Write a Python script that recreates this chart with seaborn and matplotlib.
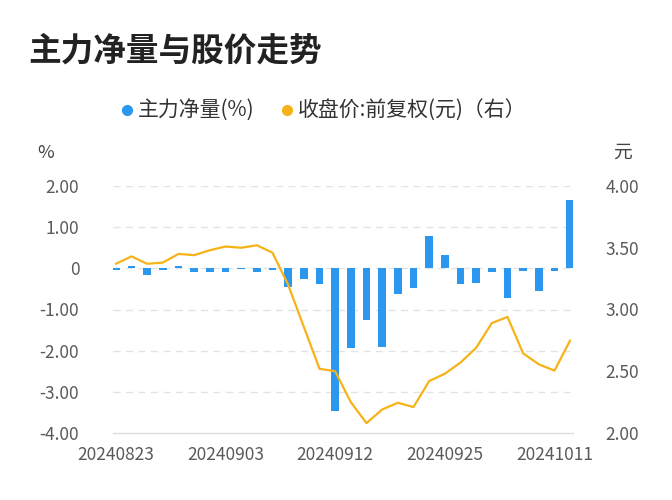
import matplotlib
matplotlib.use("Agg")
import matplotlib.pyplot as plt
import seaborn as sns
import pandas as pd
from matplotlib.lines import Line2D

dates = ["20240823", "20240826", "20240827", "20240828", "20240829", "20240830",
         "20240902", "20240903", "20240904", "20240905", "20240906",
         "20240909", "20240910", "20240911", "20240912", "20240913",
         "20240918", "20240919", "20240920", "20240923", "20240924",
         "20240925", "20240926", "20240927", "20240930", "20241008",
         "20241009", "20241010", "20241011", "20241014"]
net_flow = [-0.05, 0.05, -0.15, -0.05, 0.05, -0.08, -0.08, -0.08, -0.02, -0.10,
            -0.03, -0.45, -0.25, -0.37, -3.46, -1.94, -1.25, -1.90, -0.63, -0.48,
            0.78, 0.32, -0.37, -0.35, -0.09, -0.71, -0.07, -0.55, -0.06, 1.66]
close = [3.37, 3.43, 3.37, 3.38, 3.45, 3.44, 3.48, 3.51, 3.50, 3.52,
         3.46, 3.20, 2.86, 2.52, 2.50, 2.25, 2.08, 2.19, 2.245, 2.21,
         2.42, 2.48, 2.57, 2.69, 2.89, 2.94, 2.645, 2.556, 2.505, 2.75]
tick_labels = ["20240823", "20240903", "20240912", "20240925", "20241011"]
left_ticks = [2, 1, 0, -1, -2, -3, -4]
left_tick_labels = ["2.00", "1.00", "0", "-1.00", "-2.00", "-3.00", "-4.00"]
right_ticks = [4.0, 3.5, 3.0, 2.5, 2.0]
right_tick_labels = ["4.00", "3.50", "3.00", "2.50", "2.00"]

df = pd.DataFrame({"date": dates, "net": net_flow, "close": close})

sns.set_theme(style="white")
plt.rcParams["font.family"] = ["Noto Sans CJK SC", "DejaVu Sans"]

BLUE = "#2c97ee"
ORANGE = "#f6b318"
TICK = "#5a5a5a"
GRID = "#e3e3e3"

fig = plt.figure(figsize=(6.72, 5.0), dpi=100)
ax = fig.add_axes([0.1677, 0.134, 0.6854, 0.494])
sns.barplot(data=df, x="date", y="net", color=BLUE, width=0.5, ax=ax,
            saturation=1, edgecolor="none")
ax2 = ax.twinx()
sns.lineplot(data=df, x="date", y="close", color=ORANGE, linewidth=1.6, ax=ax2,
             sort=False)

ax.set_xlim(-0.2, len(dates) - 0.8)
ax.set_ylim(-4, 2)
ax2.set_ylim(2, 4)

ax.set_yticks(left_ticks)
ax.set_yticklabels(left_tick_labels)
ax2.set_yticks(right_ticks)
ax2.set_yticklabels(right_tick_labels)
tick_pos = [dates.index(d) for d in tick_labels]
ax.set_xticks(tick_pos)
ax.set_xticklabels(tick_labels)

for a in (ax, ax2):
    a.set_xlabel("")
    a.set_ylabel("")
    for s in a.spines.values():
        s.set_visible(False)
ax.spines["bottom"].set_visible(True)
ax.spines["bottom"].set_color("#dcdcdc")
ax.spines["bottom"].set_linewidth(1.0)

ax.tick_params(axis="y", length=0, pad=24, labelsize=12.5, labelcolor=TICK)
ax.tick_params(axis="x", length=0, pad=9, labelsize=12.5, labelcolor=TICK)
ax2.tick_params(axis="y", length=0, pad=23, labelsize=12.5, labelcolor=TICK)

for y in left_ticks[:-1]:
    ax.axhline(y, color=GRID, linestyle=(0, (5, 4)), linewidth=1.0, zorder=0)
ax.set_axisbelow(True)

fig.text(0.042, 0.897, "主力净量与股价走势", fontsize=23.5, fontweight="bold",
         color="#222222", ha="left", va="center")
fig.text(0.068, 0.695, "%", fontsize=13, color="#444444", ha="center", va="center")
fig.text(0.926, 0.695, "元", fontsize=13.5, color="#444444", ha="center", va="center")

handles = [
    Line2D([], [], marker="o", linestyle="none", markersize=7,
           markerfacecolor=BLUE, markeredgecolor=BLUE, label="主力净量(%)"),
    Line2D([], [], marker="o", linestyle="none", markersize=7,
           markerfacecolor=ORANGE, markeredgecolor=ORANGE, label="收盘价:前复权(元)（右）"),
]
leg = fig.legend(handles=handles, loc="center", bbox_to_anchor=(0.48, 0.778),
                 ncol=2, frameon=False, fontsize=15, handletextpad=0.1,
                 columnspacing=1.2, handlelength=0.8)
for t in leg.get_texts():
    t.set_color("#333333")

fig.savefig("out.png", dpi=100)
